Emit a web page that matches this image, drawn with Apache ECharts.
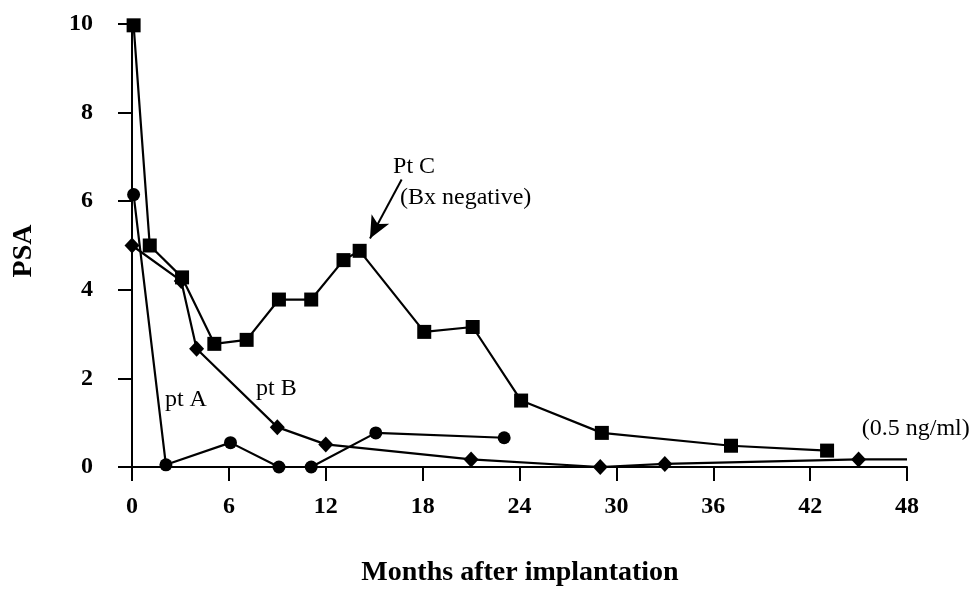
<!DOCTYPE html>
<html>
<head>
<meta charset="utf-8">
<script src="https://cdn.jsdelivr.net/npm/echarts@6/dist/echarts.min.js"></script>
<style>html,body{margin:0;padding:0;background:#fff}#c{width:975px;height:590px}</style>
</head>
<body>
<div id="c"></div>
<script>
// ---- data ----
const xTicks = [0, 6, 12, 18, 24, 30, 36, 42, 48];
const yTicks = [0, 2, 4, 6, 8, 10];

const ptAMonths = [0.1, 2.1, 6.1, 9.1, 11.1, 15.1, 23.05];
const ptAPsa    = [6.15, 0.05, 0.55, 0, 0, 0.77, 0.66];

const ptBMonths = [0, 3.05, 4.0, 9.0, 12.0, 21.0, 29.0, 33.0, 45.0, 48];
const ptBPsa    = [5.0, 4.2, 2.67, 0.9, 0.51, 0.17, 0.0, 0.07, 0.17, 0.17];

const ptCMonths = [0.1, 1.1, 3.1, 5.1, 7.1, 9.1, 11.1, 13.1, 14.1, 18.1, 21.1, 24.1, 29.1, 37.1, 43.05];
const ptCPsa    = [9.97, 5.0, 4.28, 2.78, 2.87, 3.78, 3.78, 4.67, 4.88, 3.05, 3.16, 1.5, 0.77, 0.48, 0.37];

const annotations = [
  {text: 'pt A', at: [2.04, 1.51]},
  {text: 'pt B', at: [7.68, 1.76]},
  {text: 'Pt C', at: [16.17, 6.77]},
  {text: '(Bx negative)', at: [16.6, 6.09]},
  {text: '(0.5 ng/ml)', at: [45.2, 0.86]}
];
const arrowFrom = [16.7, 6.49];
const arrowTo = [14.74, 5.16];

// ---- chart ----
const FONT = '"Liberation Serif", "DejaVu Serif", serif';
const zip = (xs, ys) => xs.map((x, i) => [x, ys[i]]);
const chart = echarts.init(document.getElementById('c'), null, {renderer: 'canvas'});

const lineStyle = {color: '#000', width: 2.2};
const axisCommon = {
  axisLine: {show: true, onZero: false, lineStyle: {color: '#000', width: 2}},
  axisTick: {show: true, inside: false, length: 14, lineStyle: {color: '#000', width: 2}},
  splitLine: {show: false},
  nameTextStyle: {fontFamily: FONT, fontWeight: 'bold', fontSize: 28, color: '#000'}
};

const ptBData = zip(ptBMonths, ptBPsa).map((p, i) =>
  i === ptBMonths.length - 1 ? {value: p, symbol: 'none'} : p);

chart.setOption({
  animation: false,
  backgroundColor: '#fff',
  grid: {left: 132, right: 68, top: 24, bottom: 123, containLabel: false, outerBoundsMode: 'none'},
  xAxis: Object.assign({}, axisCommon, {
    type: 'value', min: xTicks[0], max: xTicks[xTicks.length - 1], interval: 6,
    axisLabel: {color: '#000', fontFamily: FONT, fontWeight: 'bold', fontSize: 24, margin: 28}
  }),
  yAxis: Object.assign({}, axisCommon, {
    type: 'value', min: yTicks[0], max: yTicks[yTicks.length - 1], interval: 2,
    axisLabel: {color: '#000', fontFamily: FONT, fontWeight: 'bold', fontSize: 24, margin: 39}
  }),
  series: [
    {
      name: 'Pt C', type: 'line', data: zip(ptCMonths, ptCPsa),
      symbol: 'rect', symbolSize: 14, clip: false,
      lineStyle: lineStyle, itemStyle: {color: '#000'},
      markLine: {
        silent: true, symbolSize: [15, 22],
        lineStyle: {color: '#000', width: 2, type: 'solid'},
        label: {show: false},
        data: [[{coord: arrowFrom, symbol: 'none'}, {coord: arrowTo, symbol: 'arrow'}]]
      }
    },
    {
      name: 'pt B', type: 'line', data: ptBData,
      symbol: 'diamond', symbolSize: [15, 16], clip: false,
      lineStyle: lineStyle, itemStyle: {color: '#000'}
    },
    {
      name: 'pt A', type: 'line', data: zip(ptAMonths, ptAPsa),
      symbol: 'circle', symbolSize: 13, clip: false,
      lineStyle: lineStyle, itemStyle: {color: '#000'}
    }
  ]
});

const graphics = annotations.map((a, i) => {
  const p = chart.convertToPixel({gridIndex: 0}, a.at);
  return {
    id: 'ann' + i, type: 'text', x: p[0], y: p[1], silent: true,
    style: {text: a.text, fill: '#000', font: '24px ' + FONT, align: 'left', verticalAlign: 'middle'}
  };
});
graphics.push({
  id: 'ytitle', type: 'text', x: 24, y: 251, rotation: Math.PI / 2, silent: true,
  style: {text: 'PSA', fill: '#000', font: 'bold 28px ' + FONT, align: 'center', verticalAlign: 'middle'}
});
graphics.push({
  id: 'xtitle', type: 'text', x: 520, y: 573, silent: true,
  style: {text: 'Months after implantation', fill: '#000', font: 'bold 28px ' + FONT, align: 'center', verticalAlign: 'middle'}
});
chart.setOption({graphic: graphics});
</script>
</body>
</html>
